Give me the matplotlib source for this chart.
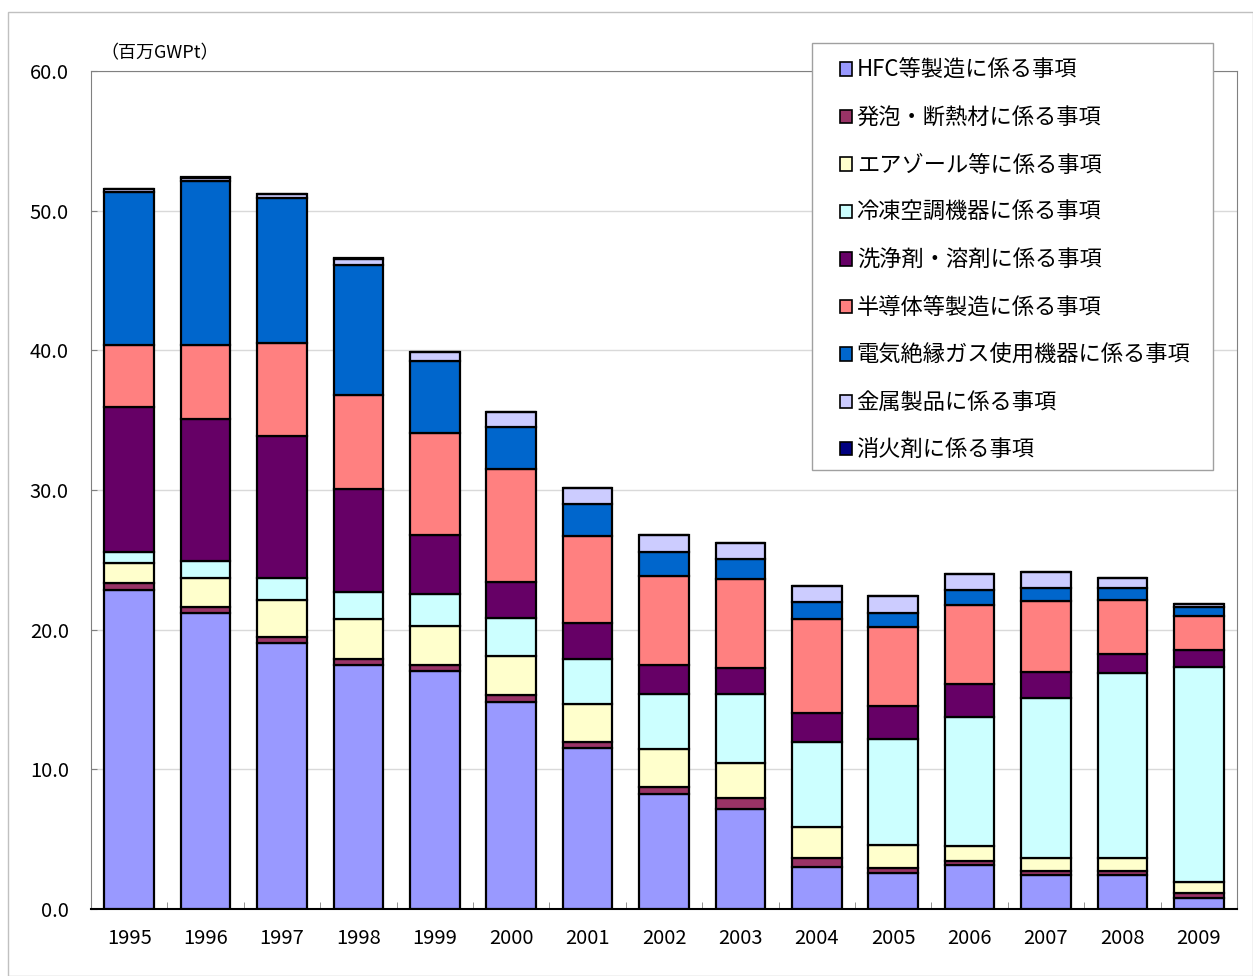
import numpy as np
import matplotlib
matplotlib.use("agg")
import matplotlib.pyplot as plt
from matplotlib.patches import Rectangle

plt.rcParams['font.family'] = ['Noto Sans CJK JP', 'DejaVu Sans']

years = ["1995", "1996", "1997", "1998", "1999", "2000", "2001", "2002",
         "2003", "2004", "2005", "2006", "2007", "2008", "2009"]

labels = ["HFC等製造に係る事項", "発泡・断熱材に係る事項", "エアゾール等に係る事項",
          "冷凍空調機器に係る事項", "洗浄剤・溶剤に係る事項", "半導体等製造に係る事項",
          "電気絶縁ガス使用機器に係る事項", "金属製品に係る事項", "消火剤に係る事項"]

hfc = [22.87, 21.22, 19.04, 17.47, 17.04, 14.84, 11.50, 8.23, 7.16, 3.03, 2.60, 3.15, 2.43, 2.43, 0.81]
foam = [0.50, 0.43, 0.46, 0.45, 0.40, 0.48, 0.48, 0.48, 0.76, 0.60, 0.36, 0.29, 0.31, 0.31, 0.31]
aerosol = [1.38, 2.07, 2.62, 2.84, 2.82, 2.79, 2.68, 2.72, 2.55, 2.22, 1.62, 1.09, 0.89, 0.93, 0.79]
refrig = [0.79, 1.20, 1.55, 1.91, 2.29, 2.70, 3.21, 3.96, 4.90, 6.13, 7.59, 9.24, 11.45, 13.25, 15.44]
solvent = [10.40, 10.16, 10.20, 7.40, 4.23, 2.63, 2.63, 2.08, 1.91, 2.08, 2.36, 2.34, 1.91, 1.34, 1.19]
semicon = [4.44, 5.30, 6.63, 6.73, 7.30, 8.06, 6.23, 6.39, 6.32, 6.67, 5.68, 5.69, 5.08, 3.86, 2.44]
electric = [10.98, 11.74, 10.38, 9.31, 5.16, 3.03, 2.24, 1.72, 1.44, 1.27, 1.01, 1.04, 0.88, 0.83, 0.62]
metal = [0.16, 0.22, 0.28, 0.45, 0.64, 1.07, 1.19, 1.17, 1.16, 1.15, 1.19, 1.12, 1.15, 0.72, 0.22]
fire = [0.04, 0.04, 0.04, 0.02, 0.02, 0.01, 0.01, 0.01, 0.01, 0.01, 0.01, 0.01, 0.01, 0.01, 0.0]

series = [hfc, foam, aerosol, refrig, solvent, semicon, electric, metal, fire]
colors = ["#9999FF", "#993366", "#FFFFCC", "#CCFFFF", "#660066",
          "#FF8080", "#0066CC", "#CCCCFF", "#000080"]

W, H = 1253, 976
fig = plt.figure(figsize=(W / 100, H / 100), dpi=100)
ax = fig.add_axes([91 / W, 1 - 909 / H, (1237 - 91) / W, (909 - 71) / H])

x = np.arange(len(years))
bottom = np.zeros(len(years))
handles = []
for vals, col, lab in zip(series, colors, labels):
    b = ax.bar(x, vals, 0.65, bottom=bottom, color=col, edgecolor="black",
               linewidth=1.6, label=lab, zorder=3)
    handles.append(b)
    bottom += np.array(vals)

ax.set_xlim(-0.5, len(years) - 0.5)
ax.set_ylim(0, 60)
ax.set_yticks(np.arange(0, 61, 10))
ax.set_yticklabels(["%.1f" % v for v in np.arange(0, 61, 10)], fontsize=14.5)
ax.set_xticks(x)
ax.set_xticklabels(years, fontsize=14.5)
ax.tick_params(axis="x", length=0, pad=14)
ax.set_xticks(np.arange(0.5, len(years) - 0.5, 1), minor=True)
ax.tick_params(axis="x", which="minor", direction="in", length=5, color="#808080")
ax.tick_params(axis="y", direction="in", length=4, color="#808080", pad=16)
ax.grid(axis="y", color="#D9D9D9", linewidth=1, zorder=0)

for s in ["top", "right", "left"]:
    ax.spines[s].set_color("#808080")
ax.spines["bottom"].set_color("black")
ax.spines["bottom"].set_linewidth(1.5)

fig.text(100 / W, 1 - 62 / H, "（百万GWPt）", fontsize=13, va="bottom", ha="left")

# legend box drawn by hand so its size matches the reference
fig.patches.append(Rectangle((812 / W, 1 - 470 / H), (1213 - 812) / W, (470 - 43) / H,
                             transform=fig.transFigure, facecolor="white",
                             edgecolor="#A0A0A0", linewidth=1, zorder=2))
leg = fig.legend(handles=handles, labels=labels, loc="upper left",
                 bbox_to_anchor=(840 / W, 1 - 59 / H), fontsize=16, frameon=False,
                 handlelength=0.55, handleheight=0.55, handletextpad=0.2,
                 labelspacing=1.1, borderpad=0, borderaxespad=0)
leg.set_zorder(5)
for h in leg.legend_handles:
    h.set_linewidth(1.2)

fig.patches.append(Rectangle((8 / W, 0), 1 - 8 / W, 1 - 12 / H,
                             transform=fig.transFigure, fill=False,
                             edgecolor="#C0C0C0", linewidth=1))

plt.savefig("out.png", dpi=100)
